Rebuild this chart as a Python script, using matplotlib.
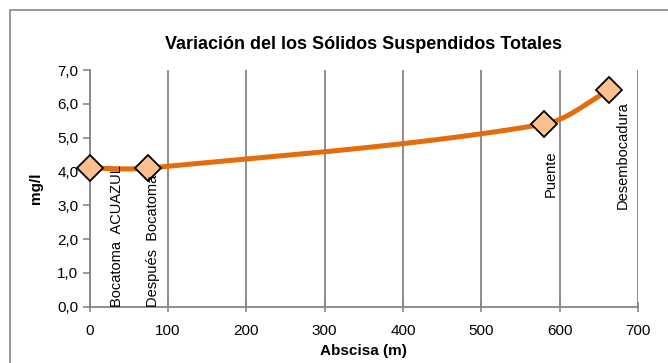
import numpy as np
import matplotlib.pyplot as plt
from matplotlib.patches import Rectangle

# Puntos de muestreo
abscisa = [0, 75, 580, 663]
sst = [4.1, 4.1, 5.4, 6.4]
estaciones = ['Bocatoma  ACUAZUL', 'Después  Bocatoma', 'Puente', 'Desembocadura']

# posicion de las etiquetas (x, y, alineacion vertical)
etiq_pos = [(35, 0.0, 'bottom'), (81, 0.0, 'bottom'), (589, 3.25, 'bottom'), (680, 6.07, 'top')]

plt.rcParams['font.family'] = ['Liberation Sans', 'DejaVu Sans']


def suavizar(x, y, n=60):
    # curva suavizada (Bezier cubica con tangentes ponderadas por cuerda),
    # calculada en escala de pantalla para que no se doble sobre si misma
    sx, sy = 552 / 700, 237 / 7
    p = np.column_stack([np.array(x) * sx, np.array(y) * sy]).astype(float)
    ext = np.vstack([p[0], p, p[-1]])
    out = []
    for i in range(len(p) - 1):
        p0, p1, p2, p3 = ext[i], ext[i + 1], ext[i + 2], ext[i + 3]
        d = np.linalg.norm(p2 - p1)
        t1 = p2 - p0
        t2 = p3 - p1
        c1 = p1 + t1 / max(np.linalg.norm(t1), 1e-9) * d / 3
        c2 = p2 - t2 / max(np.linalg.norm(t2), 1e-9) * d / 3
        t = np.linspace(0, 1, n)[:, None]
        seg = (1 - t) ** 3 * p1 + 3 * (1 - t) ** 2 * t * c1 + 3 * (1 - t) * t ** 2 * c2 + t ** 3 * p2
        out.append(seg if i == 0 else seg[1:])
    c = np.vstack(out)
    return c[:, 0] / sx, c[:, 1] / sy


fig = plt.figure(figsize=(6.68, 3.63), dpi=100)
fig.patches.append(Rectangle((10 / 668, -0.1), 1.2, 1 - 10 / 363 + 0.1, transform=fig.transFigure,
                             fill=False, edgecolor='#868686', linewidth=1.2))
ax = fig.add_axes([0.134, 0.155, 0.821, 0.652])

xs, ys = suavizar(abscisa, sst)
ax.plot(xs, ys, color='#E46C0A', linewidth=3.6, solid_capstyle='round', zorder=3, clip_on=False)
ax.plot(abscisa, sst, linestyle='none', marker='D', markersize=13, clip_on=False,
        markerfacecolor='#FAC090', markeredgecolor='black', markeredgewidth=1.3, zorder=4)

for nombre, (xp, yp, va) in zip(estaciones, etiq_pos):
    ax.text(xp, yp, nombre, rotation=90, ha='center', va=va, fontsize=10.5, zorder=5)

ax.set_xlim(0, 700)
ax.set_ylim(0, 7)
ax.set_xticks(range(0, 701, 100))
ax.set_yticks(np.arange(0, 7.1, 1))
ax.set_yticklabels([f'{v:.1f}'.replace('.', ',') for v in np.arange(0, 7.1, 1)])
ax.grid(axis='x', color='#868686', linewidth=1.3)
ax.set_axisbelow(True)
for s in ['top', 'right']:
    ax.spines[s].set_visible(False)
for s in ['left', 'bottom']:
    ax.spines[s].set_color('#868686')
    ax.spines[s].set_linewidth(1.3)
ax.tick_params(axis='y', direction='out', length=5, color='#868686', width=1.2, labelsize=11, pad=3)
ax.tick_params(axis='x', direction='inout', length=7, color='#868686', width=1.2, labelsize=11, pad=9)

ax.set_title('Variación del los Sólidos Suspendidos Totales', fontsize=13, fontweight='bold', pad=15)
ax.set_xlabel('Abscisa (m)', fontsize=11, fontweight='bold', labelpad=4)
ax.set_ylabel('mg/l', fontsize=11, fontweight='bold', labelpad=10)

fig.savefig('out.png', dpi=100)
